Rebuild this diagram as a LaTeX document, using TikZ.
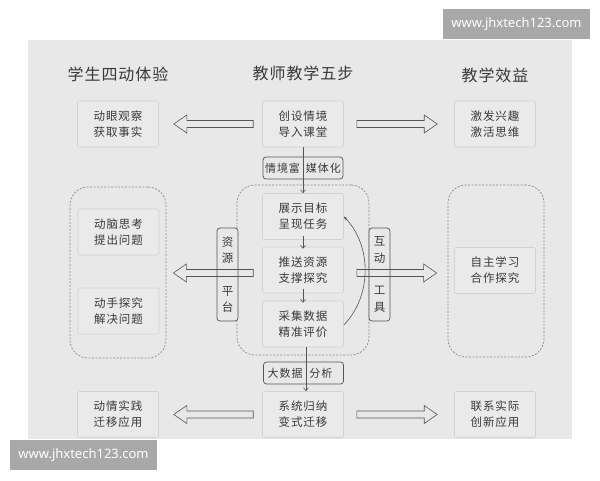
\documentclass[tikz,border=0pt]{standalone}
\usepackage{fontspec}
\usetikzlibrary{calc,arrows.meta}
\newfontfamily\cjk[LetterSpace=8]{Noto Sans CJK SC}
\newfontfamily\cjktitle[LetterSpace=6]{Noto Sans CJK SC}
\newfontfamily\wmfont{Noto Sans}
\definecolor{bg}{HTML}{E8E8E8}
\definecolor{boxfill}{HTML}{EAEAEA}
\definecolor{boxline}{HTML}{D2D2D2}
\definecolor{ink}{HTML}{3A3A3A}
\definecolor{dashc}{HTML}{8A8A8A}
\definecolor{linec}{HTML}{555555}
\definecolor{wm}{HTML}{A8A8A8}
\tikzset{
  title/.style={font=\cjktitle\fontsize{16}{18}\selectfont, text=ink},
  box/.style={draw=boxline, fill=boxfill, line width=0.6pt, rounded corners=2pt,
    minimum width=81pt, minimum height=46pt, align=center, inner sep=0pt,
    font=\cjk\fontsize{11.5}{16}\selectfont, text=ink},
  container/.style={draw=dashc, dash pattern=on 2pt off 1.5pt, line width=0.7pt,
    rounded corners=18pt, inner sep=0pt},
  tag/.style={draw=linec, fill=bg, line width=0.7pt, rounded corners=3pt, inner sep=0pt,
    minimum width=80pt, minimum height=22pt, font=\cjk\fontsize{11}{13}\selectfont, text=ink},
  vtag/.style={draw=linec, fill=bg, line width=0.7pt, rounded corners=3pt, inner sep=0pt,
    minimum width=21pt, minimum height=93pt, align=center,
    font=\cjk\fontsize{11.5}{16.3}\selectfont, text=ink},
  harrow/.style={draw=linec, line width=0.6pt, line join=miter},
  varrow/.style={draw=linec, line width=0.6pt, -{Straight Barb[length=3pt,width=5pt]}},
  curvearr/.style={draw=linec, line width=0.6pt, -{Stealth[length=4pt,width=3pt]}},
  wmbox/.style={fill=wm, inner sep=0pt, font=\wmfont\fontsize{13}{15}\selectfont, text=white}
}
\newcommand\hollowarrow[2]{%
  \draw[harrow] let \p1=(#1), \p2=(#2), \n1={\x2>\x1 ? -13 : 13} in
  ({\x1},{\y1+3.5pt}) -- ({\x2+\n1*1pt},{\y1+3.5pt}) -- ({\x2+\n1*1pt},{\y1+9pt}) -- ({\x2},{\y1})
  -- ({\x2+\n1*1pt},{\y1-9pt}) -- ({\x2+\n1*1pt},{\y1-3.5pt}) -- ({\x1},{\y1-3.5pt}) -- cycle;}
\begin{document}
\begin{tikzpicture}[x=1pt,y=-1pt]
\useasboundingbox (0,0) rectangle (600,480);
\fill[bg] (28,40) rectangle (572,439);
% titles
\node[title] (t1) at (118,74) {学生四动体验};
\node[title] (t2) at (303,73) {教师教学五步};
\node[title] (t3) at (495,75) {教学效益};
% containers
\node[container, minimum width=96pt, minimum height=171pt] (L) at (118,272.5) {};
\node[container, minimum width=132pt, minimum height=170pt] (C) at (303,270) {};
\node[container, minimum width=96pt, minimum height=172pt] (R) at (496,271) {};
% row 1
\node[box] (l1) at (118,124) {动眼观察\\获取事实};
\node[box] (c1) at (303,124) {创设情境\\导入课堂};
\node[box] (r1) at (495,124) {激发兴趣\\激活思维};
% middle
\node[box] (l2) at (118.5,232) {动脑思考\\提出问题};
\node[box] (l3) at (118.5,311) {动手探究\\解决问题};
\node[box] (r2) at (495,270.5) {自主学习\\合作探究};
\node[box] (b1) at (303,216.5) {展示目标\\呈现任务};
\node[box] (b2) at (303,270) {推送资源\\支撑探究};
\node[box] (b3) at (303,324) {采集数据\\精准评价};
% row 3
\node[box] (l4) at (118,414.5) {动情实践\\迁移应用};
\node[box] (c3) at (303,414.5) {系统归纳\\变式迁移};
\node[box] (r3) at (495,414.5) {联系实际\\创新应用};
% tags
\node[tag] (g1) at (303,168) {\makebox[0pt][r]{情境富}\hspace{6pt}\makebox[0pt][l]{媒体化}};
\node[tag] (g2) at (303.5,373) {\hspace{5pt}\makebox[0pt][r]{大数据}\hspace{7pt}\makebox[0pt][l]{分析}};
\node[vtag] (v1) at (227.5,274.5) {资\\源\\[16.3pt]平\\台};
\node[vtag] (v2) at (379.5,274.5) {互\\动\\[16.3pt]工\\具};
% hollow arrows
\coordinate (a1s) at ([xshift=-9pt]c1.west);
\coordinate (a1e) at ([xshift=15pt]l1.east);
\coordinate (a2s) at ([xshift=13pt]c1.east);
\coordinate (a2e) at ([xshift=-17pt]r1.west);
\coordinate (a3s) at ([xshift=-9pt,yshift=-3pt]b2.west);
\coordinate (a3e) at ([xshift=7pt]L.east);
\coordinate (a4s) at ([xshift=13pt,yshift=-3pt]b2.east);
\coordinate (a4e) at ([xshift=-11pt]R.west);
\coordinate (a5s) at ([xshift=-9pt]c3.west);
\coordinate (a5e) at ([xshift=15pt]l4.east);
\coordinate (a6s) at ([xshift=13pt]c3.east);
\coordinate (a6e) at ([xshift=-17pt]r3.west);
\hollowarrow{a1s}{a1e}
\hollowarrow{a2s}{a2e}
\hollowarrow{a3s}{a3e}
\hollowarrow{a4s}{a4e}
\hollowarrow{a5s}{a5e}
\hollowarrow{a6s}{a6e}
% vertical connectors
\draw[varrow] (c1.south) -- (b1.north);
\draw[varrow] ([yshift=4pt]b1.south) -- ([yshift=-2pt]b2.north);
\draw[varrow] ([yshift=4pt]b2.south) -- ([yshift=-2pt]b3.north);
\draw[varrow] ([xshift=3pt]b3.south) -- ([xshift=3pt]c3.north);
% feedback curve
\draw[curvearr] ([yshift=-1pt]b3.east) .. controls (372,296) and (372,246) .. (b1.east);
% watermarks
\node[wmbox, minimum width=147pt, minimum height=30pt] (w1) at (516.5,24) {www.jhxtech123.com};
\node[wmbox, minimum width=147pt, minimum height=30pt] (w2) at (83.5,455) {www.jhxtech123.com};
\end{tikzpicture}
\end{document}
